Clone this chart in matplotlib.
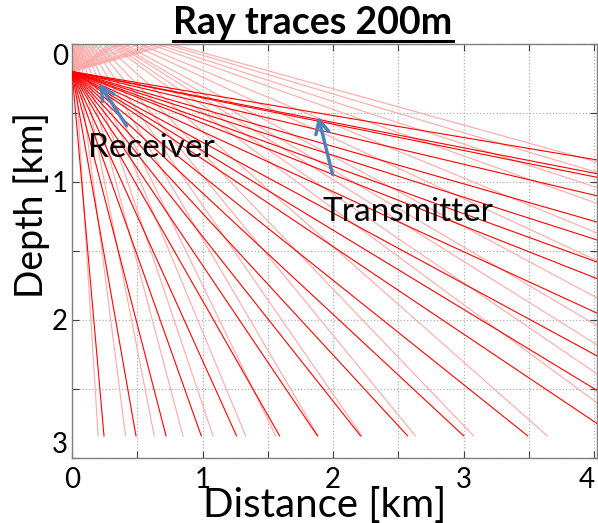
import numpy as np
import matplotlib
matplotlib.use('Agg')
import matplotlib.pyplot as plt
from matplotlib.lines import Line2D

plt.rcParams['font.family'] = ['Lato', 'DejaVu Sans']

# 声源深度 (km) 和 底部终止深度
source_depth = 0.2
bottom_depth = 2.84
edge_x = 4.02

# 直达射线 (红) —— 到底部的水平位置 / 到右边界的深度
red_bottom_x = [0.245, 0.49, 0.72, 0.99, 1.26, 1.59, 1.88, 2.21, 2.57, 3.00, 3.49]
red_edge_z = [0.84, 0.94, 0.966, 1.10, 1.29, 1.42, 1.58, 1.70, 1.95, 2.26, 2.51, 2.75]

# 海面反射射线 (浅红)
pink_bottom_x = [0.20, 0.41, 0.63, 0.85, 1.08, 1.33, 1.56, 1.885, 2.22, 2.63, 3.075, 3.64]
pink_edge_z = [0.855, 0.93, 1.04, 1.155, 1.37, 1.57, 1.84, 2.04, 2.18, 2.39, 2.60]

x_ticks = [0, 0.5, 1, 1.5, 2, 2.5, 3, 3.5, 4]
y_ticks = [0, 0.5, 1, 1.5, 2, 2.5, 3]

# 标注: (文字, 文字位置, 箭头尾, 箭头尖)
receiver_text = (0.12, 0.82)
receiver_tail = (0.43, 0.61)
receiver_tip = (0.194, 0.268)
transmitter_text = (1.92, 1.28)
transmitter_tail = (2.0, 0.964)
transmitter_tip = (1.88, 0.505)

fig = plt.figure(figsize=(5.98, 5.23), dpi=100)
ax = fig.add_axes([72 / 598, 1 - 458 / 523, 525 / 598, 414 / 523])

red_ends = [(x, bottom_depth) for x in red_bottom_x] + [(edge_x, z) for z in red_edge_z]
pink_ends = [(x, bottom_depth) for x in pink_bottom_x] + [(edge_x, z) for z in pink_edge_z]

for X, Z in pink_ends:
    # 镜像声源法: 海面反射点
    xs = X * source_depth / (Z + source_depth)
    ax.plot([0, xs, X], [source_depth, 0, Z], color='#ffa8a8', lw=0.8, zorder=2)

for X, Z in red_ends:
    ax.plot([0, X], [source_depth, Z], color='#ff0000', lw=0.8, zorder=3)

ax.set_xlim(0, edge_x)
ax.set_ylim(3.0, 0)
ax.set_xticks(x_ticks)
ax.set_yticks(y_ticks)
ax.set_xticklabels([f'{t:g}' if float(t).is_integer() else '' for t in x_ticks])
ax.set_yticklabels([f'{t:g}' if float(t).is_integer() else '' for t in y_ticks])
ax.tick_params(direction='in', length=5, width=0.8, top=True, right=True,
               labelsize=20, colors='#404040', labelcolor='black', pad=3)
ax.tick_params(axis='x', pad=6.5)
ax.grid(True, linestyle=':', color='#b0b0b0', lw=0.9)
for s in ax.spines.values():
    s.set_color('#808080')
    s.set_linewidth(1.0)

# Matlab 风格: 端点刻度标签向内收
ylabels = ax.get_yticklabels()
ylabels[0].set_va('top')
ylabels[-1].set_va('bottom')
ax.get_xticklabels()[-1].set_ha('right')

ax.set_xlabel('Distance [km]', fontsize=29)
ax.xaxis.set_label_coords((325 - 72) / 525, (458 - 517) / 414)
ax.xaxis.label.set_va('baseline')
ax.set_ylabel('Depth [km]', fontsize=27)
ax.yaxis.set_label_coords((50 - 72) / 525, (458 - 205) / 414)

arrow_kw = dict(arrowstyle='->', lw=2.5, color='#4F81BD', mutation_scale=24)
ax.annotate('', xy=receiver_tip, xytext=receiver_tail, arrowprops=arrow_kw, zorder=5)
ax.annotate('', xy=transmitter_tip, xytext=transmitter_tail, arrowprops=arrow_kw, zorder=5)
ax.text(*receiver_text, 'Receiver', fontsize=24, va='baseline', ha='left', zorder=6)
ax.text(*transmitter_text, 'Transmitter', fontsize=24, va='baseline', ha='left', zorder=6)

title = fig.text(313 / 598, 1 - 34 / 523, 'Ray traces 200m', fontsize=27, fontweight='bold',
                 ha='center', va='baseline')
fig.canvas.draw()
bb = title.get_window_extent()
uy = bb.y0 - 1
fig.add_artist(Line2D([bb.x0 / 598, bb.x1 / 598], [uy / 523, uy / 523],
                      color='black', lw=2.2, transform=fig.transFigure))

fig.savefig('out.png', dpi=100)
